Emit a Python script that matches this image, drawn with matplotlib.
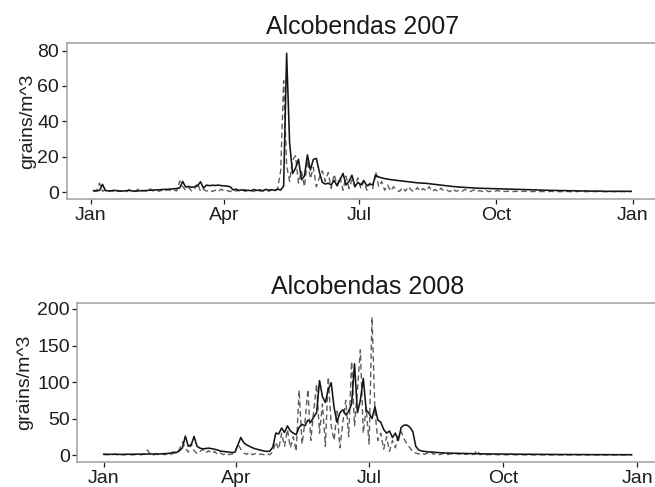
import numpy as np
import pandas as pd
import matplotlib
matplotlib.use("Agg")
import matplotlib.pyplot as plt
import matplotlib.dates as mdates
from matplotlib import transforms

plt.rcParams['font.family'] = ['Liberation Sans', 'DejaVu Sans']

# daily pollen counts sampled every second day (grains/m^3)
start_2007 = "2007-01-03"
solid_2007 = [
    0.8, 0.7, 0.9, 4.3, 0.8, 0.6, 0.7, 1.0, 0.6, 0.5,
    0.6, 0.7, 0.9, 0.6, 0.5, 0.6, 0.8, 0.7, 0.9, 1.0,
    1.1, 1.2, 1.2, 1.4, 1.5, 1.5, 1.7, 1.8, 2.0, 2.3,
    6.0, 2.8, 3.2, 2.6, 3.0, 3.4, 5.8, 2.2, 3.9, 3.6,
    3.8, 3.7, 3.9, 3.6, 3.5, 3.3, 3.0, 1.2, 1.6, 0.8,
    1.3, 0.6, 1.0, 0.7, 1.4, 0.9, 1.2, 0.6, 1.5, 1.0,
    1.3, 0.9, 1.6, 1.1, 3.5, 78.5, 28.0, 10.5, 13.5, 18.5,
    7.0, 9.0, 21.0, 12.5, 18.5, 19.0, 11.5, 5.5, 4.5, 5.0,
    4.0, 6.5, 3.5, 7.0, 10.5, 4.0, 6.0, 9.5, 3.0, 5.5,
    4.0, 6.5, 3.5, 4.5, 4.0, 9.5, 8.5, 8.0, 7.6, 7.3,
    7.0, 6.8, 6.6, 6.4, 6.2, 6.0, 5.8, 5.6, 5.4, 5.2,
    5.1, 5.0, 4.9, 4.7, 4.5, 4.3, 4.1, 3.9, 3.7, 3.5,
    3.3, 3.1, 3.0, 2.8, 2.7, 2.6, 2.5, 2.4, 2.3, 2.2,
    2.1, 2.1, 2.0, 2.0, 1.9, 1.9, 1.8, 1.8, 1.7, 1.7,
    1.6, 1.6, 1.5, 1.5, 1.4, 1.4, 1.3, 1.3, 1.2, 1.2,
    1.1, 1.1, 1.0, 1.0, 0.9, 0.9, 0.9, 0.8, 0.8, 0.8,
    0.7, 0.7, 0.7, 0.6, 0.6, 0.6, 0.6, 0.5, 0.5, 0.5,
    0.5, 0.5, 0.4, 0.4, 0.4, 0.4, 0.4, 0.4, 0.4, 0.4,
    0.4, 0.4,
]
dashed_2007 = [
    0.3, 0.5, 5.0, 0.4, 1.2, 0.3, 0.8, 0.2, 1.0, 0.4,
    0.6, 0.2, 1.3, 0.5, 0.3, 1.6, 0.4, 0.9, 0.3, 1.8,
    0.6, 1.2, 0.4, 1.0, 0.5, 1.4, 0.7, 1.1, 0.6, 6.2,
    3.0, 1.0, 2.5, 0.6, 1.8, 5.0, 0.4, 1.5, 0.5, 1.2,
    0.3, 1.0, 0.2, 1.6, 0.4, 0.8, 0.2, 1.3, 0.5, 1.0,
    0.3, 1.5, 0.6, 1.0, 0.2, 1.4, 0.5, 0.8, 1.6, 0.4,
    1.2, 0.5, 2.0, 12.0, 63.0, 15.0, 6.0, 18.0, 20.5, 5.0,
    12.0, 3.0, 18.0, 7.5, 14.0, 3.0, 8.0, 12.0, 6.0, 11.0,
    2.0, 10.0, 4.0, 8.5, 1.0, 9.0, 2.0, 7.0, 3.0, 8.0,
    2.0, 6.0, 1.0, 5.0, 2.0, 11.5, 3.0, 6.0, 1.0, 4.0,
    0.5, 3.0, 1.0, 0.3, 2.5, 0.5, 3.0, 1.0, 0.2, 2.5,
    0.4, 2.0, 0.6, 3.0, 0.3, 1.5, 0.2, 2.2, 0.5, 1.0,
    0.2, 1.8, 0.4, 0.9, 0.2, 1.5, 0.6, 0.3, 1.2, 0.2,
    0.8, 0.3, 1.1, 0.2, 0.5, 0.3, 0.9, 0.2, 0.4, 0.3,
    0.6, 0.2, 0.4, 0.3, 0.2, 0.5, 0.2, 0.3, 0.2, 0.4,
    0.2, 0.3, 0.2, 0.2, 0.4, 0.2, 0.3, 0.2, 0.2, 0.3,
    0.2, 0.2, 0.3, 0.2, 0.6, 0.2, 0.2, 0.3, 0.2, 0.2,
    0.3, 0.2, 0.2, 0.2, 0.3, 0.2, 0.2, 0.2, 0.3, 0.2,
    0.2, 0.2,
]

start_2008 = "2008-01-01"
solid_2008 = [
    1.2, 1.1, 1.0, 1.1, 1.2, 1.0, 0.9, 1.0, 1.1, 1.2,
    1.2, 1.1, 1.3, 1.2, 1.4, 1.3, 1.5, 1.4, 1.6, 1.5,
    1.7, 1.9, 2.2, 2.8, 4.0, 3.5, 6.0, 10.0, 26.0, 12.0,
    14.0, 25.5, 12.0, 9.5, 8.5, 9.0, 9.5, 8.8, 8.0, 7.0,
    5.5, 5.0, 4.5, 4.0, 3.5, 4.0, 14.0, 24.0, 17.0, 14.0,
    12.0, 10.0, 8.5, 7.5, 6.5, 5.5, 5.0, 5.5, 11.0, 30.0,
    29.0, 37.0, 31.0, 40.0, 33.0, 30.0, 28.0, 38.0, 42.0, 40.0,
    48.0, 45.0, 52.0, 58.0, 102.0, 80.0, 72.0, 90.0, 99.0, 65.0,
    45.0, 58.0, 62.0, 55.0, 60.0, 70.0, 125.0, 58.0, 75.0, 105.0,
    62.0, 57.0, 50.0, 66.0, 48.0, 45.0, 35.0, 30.0, 33.0, 24.0,
    30.0, 20.0, 38.0, 41.0, 41.0, 38.0, 32.0, 12.0, 7.0, 5.5,
    5.0, 4.5, 4.2, 4.0, 3.6, 3.2, 3.0, 2.8, 2.7, 2.5,
    2.4, 2.3, 2.2, 2.1, 2.0, 2.0, 1.9, 1.8, 1.8, 1.7,
    1.7, 1.6, 1.6, 1.5, 1.5, 1.4, 1.4, 1.4, 1.3, 1.3,
    1.3, 1.2, 1.2, 1.2, 1.1, 1.1, 1.1, 1.0, 1.0, 1.0,
    1.0, 0.9, 0.9, 0.9, 0.9, 0.8, 0.8, 0.8, 0.8, 0.8,
    0.7, 0.7, 0.7, 0.7, 0.7, 0.7, 0.6, 0.6, 0.6, 0.6,
    0.6, 0.6, 0.6, 0.6, 0.6, 0.5, 0.5, 0.5, 0.5, 0.5,
    0.5, 0.5,
]
dashed_2008 = [
    0.3, 0.8, 0.2, 0.5, 1.0, 0.2, 0.6, 0.3, 1.2, 0.4,
    0.2, 0.9, 0.3, 0.5, 1.5, 7.0, 0.8, 0.3, 1.1, 0.4,
    1.5, 0.5, 2.0, 0.8, 2.5, 3.0, 8.0, 18.0, 10.0, 4.0,
    15.0, 6.0, 2.0, 5.0, 8.0, 3.0, 6.0, 2.0, 5.0, 1.0,
    3.0, 0.5, 2.5, 0.5, 1.5, 3.0, 15.0, 8.0, 3.0, 1.0,
    4.0, 0.5, 2.0, 0.3, 1.5, 0.5, 2.0, 0.5, 5.0, 18.0,
    8.0, 30.0, 12.0, 35.0, 10.0, 25.0, 5.0, 89.0, 15.0, 45.0,
    90.0, 20.0, 60.0, 97.0, 30.0, 70.0, 12.0, 107.0, 40.0, 20.0,
    60.0, 10.0, 45.0, 75.0, 25.0, 128.0, 40.0, 90.0, 144.0, 30.0,
    65.0, 15.0, 189.0, 60.0, 20.0, 30.0, 8.0, 25.0, 5.0, 20.0,
    10.0, 28.0, 32.0, 22.0, 15.0, 10.0, 4.0, 3.0, 1.5, 3.0,
    1.0, 2.5, 5.0, 1.0, 2.0, 0.5, 1.5, 3.0, 0.6, 1.8,
    0.5, 2.0, 1.0, 3.5, 0.8, 1.5, 0.4, 1.0, 6.5, 0.6,
    1.2, 0.4, 0.8, 0.3, 1.0, 0.5, 0.3, 0.8, 0.2, 0.6,
    0.3, 0.5, 0.2, 0.4, 0.3, 0.2, 0.5, 0.2, 0.3, 0.2,
    0.4, 0.2, 0.3, 0.2, 0.2, 0.3, 0.2, 0.2, 0.3, 0.2,
    0.2, 0.3, 0.2, 0.2, 0.2, 0.3, 0.2, 0.2, 0.2, 0.3,
    0.2, 0.2, 0.3, 0.2, 0.2, 0.2, 0.2, 0.3, 0.2, 0.2,
    0.2, 0.2,
]

yticks_2007 = [0, 20, 40, 60, 80]
yticks_2008 = [0, 50, 100, 150, 200]
month_ticks = ["01-01", "04-01", "07-01", "10-01"]

W, H = 655, 487
fig = plt.figure(figsize=(W / 100, H / 100), dpi=100)


def panel(rect_px, year, start, solid, dashed, yticks, ylim, label_x):
    left, top, right, bottom = rect_px
    ax = fig.add_axes([left / W, 1 - bottom / H, (right - left) / W, (bottom - top) / H])
    d_solid = pd.date_range(start, periods=len(solid), freq="2D")
    d_dashed = pd.date_range(start, periods=len(dashed), freq="2D")
    ax.plot(d_dashed, dashed, color="#5e5e5e", lw=1.0, linestyle=(0, (4, 2.5)))
    ax.plot(d_solid, solid, color="#151515", lw=1.15)

    # ggplot-style 5% padding on the date range
    first, last = d_solid[0], d_solid[-1]
    pad = (last - first) * 0.05
    ax.set_xlim(first - pad, last + pad)
    ax.set_ylim(*ylim)

    xt = [pd.Timestamp(f"{year}-{m}") for m in month_ticks] + [pd.Timestamp(f"{year + 1}-01-01")]
    ax.set_xticks(xt)
    ax.xaxis.set_major_formatter(mdates.DateFormatter("%b"))
    ax.set_yticks(yticks)

    for s in ax.spines.values():
        s.set_color("#a0a0a0")
        s.set_linewidth(1.1)
    ax.tick_params(colors="#1e1e1e", labelcolor="#1e1e1e", length=3.5, width=0.9,
                   labelsize=14, pad=2)
    ax.set_title(f"Alcobendas {year}", fontsize=18, color="#1a1a1a", pad=6)
    ax.set_ylabel("grains/m^3", fontsize=14, color="#1e1e1e")
    ax.yaxis.set_label_coords(label_x / W, 0.5,
                              transform=transforms.blended_transform_factory(fig.transFigure, ax.transAxes))
    return ax


panel((66.7, 42.7, 658, 199), 2007, start_2007, solid_2007, dashed_2007,
      yticks_2007, (-3.96, 84.5), 36)
panel((77.3, 302.7, 658, 462.3), 2008, start_2008, solid_2008, dashed_2008,
      yticks_2008, (-9.9, 208.6), 33)

fig.savefig("out.png", dpi=100)
